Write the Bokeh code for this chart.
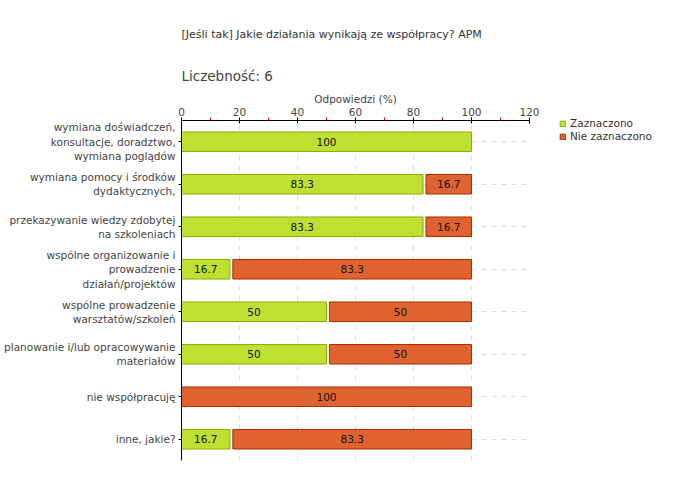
from bokeh.plotting import figure
from bokeh.models import (ColumnDataSource, FixedTicker, Title, Legend, LegendItem)
from bokeh.core.properties import value
from bokeh.embed import file_html
from bokeh.resources import INLINE

categories = [
    "wymiana doświadczeń,\nkonsultacje, doradztwo,\nwymiana poglądów",
    "wymiana pomocy i środków\ndydaktycznych,",
    "przekazywanie wiedzy zdobytej\nna szkoleniach",
    "wspólne organizowanie i\nprowadzenie\ndziałań/projektów",
    "wspólne prowadzenie\nwarsztatów/szkoleń",
    "planowanie i/lub opracowywanie\nmateriałów",
    "nie współpracuję",
    "inne, jakie?",
]
zaznaczono = [100, 83.3, 83.3, 16.7, 50, 50, 0, 16.7]
nie_zaznaczono = [0, 16.7, 16.7, 83.3, 50, 50, 100, 83.3]
series_names = ["Zaznaczono", "Nie zaznaczono"]
x_ticks = [0, 20, 40, 60, 80, 100, 120]
x_minor = [10, 30, 50, 70, 90, 110]
title_text = "[Jeśli tak] Jakie działania wynikają ze współpracy? APM"
count_text = "Liczebność: 6"
axis_title = "Odpowiedzi (%)"

GREEN = "#bde031"
GREEN_LINE = "#8cae00"
ORANGE = "#e0622f"
ORANGE_LINE = "#a83000"
FONT = "DejaVu Sans"
GAP = 1.0  # visual gap between stacked segments, in data units

cats_rev = categories[::-1]

p = figure(frame_width=348, frame_height=340, y_range=cats_rev, x_range=(0, 120),
           x_axis_location="above", output_backend="svg", toolbar_location=None,
           min_border_left=181, min_border_right=151, min_border_bottom=20,
           min_border_top=120)
p.outline_line_color = None
p.y_range.range_padding = 0

src_g = ColumnDataSource(dict(y=[c for c, v in zip(categories, zaznaczono) if v > 0],
                              left=[0 for v in zaznaczono if v > 0],
                              right=[v for v in zaznaczono if v > 0],
                              label=[("%g" % v) for v in zaznaczono if v > 0]))
o_left = [(z + GAP) if z > 0 else 0 for z in zaznaczono]
o_right = [z + n for z, n in zip(zaznaczono, nie_zaznaczono)]
src_o = ColumnDataSource(dict(y=[c for c, v in zip(categories, nie_zaznaczono) if v > 0],
                              left=[l for l, v in zip(o_left, nie_zaznaczono) if v > 0],
                              right=[r for r, v in zip(o_right, nie_zaznaczono) if v > 0],
                              label=[("%g" % v) for v in nie_zaznaczono if v > 0]))
for s in (src_g, src_o):
    s.data["mid"] = [(a + b) / 2 for a, b in zip(s.data["left"], s.data["right"])]

rg = p.hbar(y="y", left="left", right="right", height=0.46, source=src_g,
            fill_color=GREEN, line_color=GREEN_LINE, line_width=1)
ro = p.hbar(y="y", left="left", right="right", height=0.46, source=src_o,
            fill_color=ORANGE, line_color=ORANGE_LINE, line_width=1)
for s in (src_g, src_o):
    p.text(x="mid", y="y", text="label", source=s, text_align="center",
           text_baseline="middle", text_font=value(FONT), text_font_size="10.5px",
           text_color="#111111")

# x axis
xa = p.xaxis[0]
xa.ticker = FixedTicker(ticks=x_ticks, minor_ticks=x_minor)
xa.axis_label = axis_title
xa.axis_label_text_font = FONT
xa.axis_label_text_font_size = "10.5px"
xa.axis_label_text_font_style = "normal"
xa.axis_label_text_color = "#444444"
xa.axis_label_standoff = 0
xa.major_label_text_font = FONT
xa.major_label_text_font_size = "10.5px"
xa.major_label_text_color = "#444444"
xa.major_label_standoff = 2
xa.major_tick_in = 3
xa.major_tick_out = 3
xa.major_tick_line_color = "black"
xa.minor_tick_in = 0
xa.minor_tick_out = 3
xa.minor_tick_line_color = "red"
xa.axis_line_color = "black"

ya = p.yaxis[0]
ya.major_label_text_font = FONT
ya.major_label_text_font_size = "10.5px"
ya.major_label_text_color = "#444444"
ya.major_label_standoff = 3
ya.major_tick_in = 0
ya.major_tick_out = 3
ya.axis_line_color = "black"

p.xgrid.ticker = FixedTicker(ticks=x_ticks)
p.xgrid.grid_line_color = "#dddddd"
p.xgrid.grid_line_dash = "5 5"
p.ygrid.grid_line_color = "#dddddd"
p.ygrid.grid_line_dash = "5 5"

p.add_layout(Title(text=count_text, text_font=FONT, text_font_size="13.5px",
                   text_font_style="normal", text_color="#444444", standoff=11), "above")
p.add_layout(Title(text=title_text, text_font=FONT, text_font_size="11px",
                   text_font_style="normal", text_color="#333333", standoff=39), "above")

legend = Legend(items=[LegendItem(label=series_names[0], renderers=[rg]),
                       LegendItem(label=series_names[1], renderers=[ro])],
                location=(30, 318), orientation="vertical",
                label_text_font=FONT, label_text_font_size="10.5px", label_text_color="#333333",
                glyph_width=7, glyph_height=7, label_height=12, label_standoff=4,
                spacing=1, padding=0, margin=0, border_line_color=None,
                background_fill_alpha=0)
p.add_layout(legend, "right")

open("out.html", "w").write(file_html(p, INLINE))
